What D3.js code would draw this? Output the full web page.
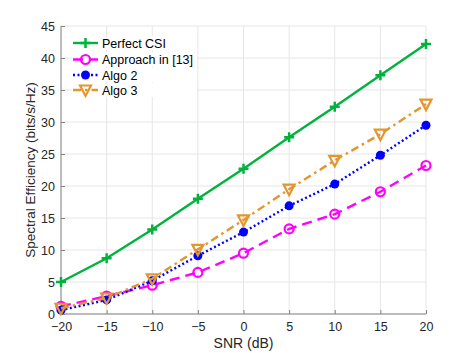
<!DOCTYPE html>
<html><head><meta charset="utf-8">
<script src="https://cdn.jsdelivr.net/npm/d3@7"></script>
<style>body{margin:0;background:#fff}svg{display:block}text{font-family:"Liberation Sans",Arial,sans-serif}</style>
</head><body>
<svg id="c" width="471" height="353"></svg>
<script>
const snr = [-20, -15, -10, -5, 0, 5, 10, 15, 20];
const perfectCSI = [5.0, 8.7, 13.2, 18.0, 22.7, 27.6, 32.4, 37.3, 42.2];
const approach13 = [1.2, 2.8, 4.5, 6.5, 9.5, 13.3, 15.6, 19.1, 23.2];
const algo2 = [0.6, 2.2, 5.2, 9.1, 12.8, 16.9, 20.3, 24.8, 29.5];
const algo3 = [0.9, 2.5, 5.5, 10.1, 14.7, 19.5, 24.0, 28.1, 32.8];
const xTicks = [-20, -15, -10, -5, 0, 5, 10, 15, 20];
const yTicks = [0, 5, 10, 15, 20, 25, 30, 35, 40, 45];
const seriesNames = ["Perfect CSI", "Approach in [13]", "Algo 2", "Algo 3"];

const series = [
  {name: seriesNames[0], vals: perfectCSI, color: "#00b33c", dash: null, marker: "plus"},
  {name: seriesNames[1], vals: approach13, color: "#ff00ff", dash: "10,6", marker: "circle"},
  {name: seriesNames[2], vals: algo2, color: "#0000ff", dash: "2,2.5", marker: "dot"},
  {name: seriesNames[3], vals: algo3, color: "#e3962b", dash: "8,4,2.5,4", marker: "tri"}
];

const svg = d3.select("#c");
const L = 61, R = 426, T = 26, B = 314;
const x = d3.scaleLinear().domain([-20, 20]).range([L, R]);
const y = d3.scaleLinear().domain([0, 45]).range([B, T]);

// grid
const g = svg.append("g");
g.selectAll(".gx").data(xTicks).join("line")
  .attr("x1", d => x(d)).attr("x2", d => x(d)).attr("y1", T).attr("y2", B)
  .attr("stroke", "#e6e6e6").attr("stroke-width", 1);
g.selectAll(".gy").data(yTicks).join("line")
  .attr("x1", L).attr("x2", R).attr("y1", d => y(d)).attr("y2", d => y(d))
  .attr("stroke", "#e6e6e6").attr("stroke-width", 1);

// axes
const xAxis = d3.axisBottom(x).tickValues(xTicks).tickSize(-4).tickPadding(8).tickFormat(d3.format("d"));
const yAxis = d3.axisLeft(y).tickValues(yTicks).tickSize(-4).tickPadding(6).tickFormat(d3.format("d"));
const ax = svg.append("g").attr("transform", `translate(0,${B})`).call(xAxis);
const ay = svg.append("g").attr("transform", `translate(${L},0)`).call(yAxis);
[ax, ay].forEach(a => {
  a.select(".domain").attr("stroke", "#858585").attr("stroke-width", 1);
  a.selectAll(".tick line").attr("stroke", "#858585");
  a.selectAll("text").attr("fill", "#262626").style("font-size", "12.5px").style("font-family", "'Liberation Sans',Arial,sans-serif");
});
ax.select(".domain").attr("d", `M${L},0H${R}`);
ay.select(".domain").attr("d", `M0,${B}V${T}`);

svg.append("text").attr("x", (L + R) / 2).attr("y", 348).attr("text-anchor", "middle")
  .attr("fill", "#262626").style("font-size", "14px").text("SNR (dB)");
svg.append("text").attr("transform", `translate(35,${(T + B) / 2}) rotate(-90)`).attr("text-anchor", "middle")
  .attr("fill", "#262626").style("font-size", "13.5px").text("Spectral Efficiency (bits/s/Hz)");

function drawMarker(sel, s, cx, cy) {
  if (s.marker === "plus") {
    sel.append("path").attr("d", `M${cx - 5},${cy}H${cx + 5}M${cx},${cy - 5}V${cy + 5}`)
      .attr("stroke", s.color).attr("stroke-width", 2.5).attr("fill", "none");
  } else if (s.marker === "circle") {
    sel.append("circle").attr("cx", cx).attr("cy", cy).attr("r", 4.5)
      .attr("stroke", s.color).attr("stroke-width", 2.2).attr("fill", "none");
  } else if (s.marker === "dot") {
    sel.append("circle").attr("cx", cx).attr("cy", cy).attr("r", 4.5).attr("fill", s.color);
  } else {
    sel.append("path").attr("d", `M${cx - 5.5},${cy - 4.5}L${cx + 5.5},${cy - 4.5}L${cx},${cy + 6}Z`)
      .attr("stroke", s.color).attr("stroke-width", 2.2).attr("fill", "none").attr("stroke-linejoin", "miter");
  }
}

const line = d3.line().x((d, i) => x(snr[i])).y(d => y(d));
series.forEach(s => {
  const gs = svg.append("g");
  gs.append("path").attr("d", line(s.vals)).attr("fill", "none").attr("stroke", s.color)
    .attr("stroke-width", 2.4).attr("stroke-dasharray", s.dash);
  s.vals.forEach((v, i) => drawMarker(gs, s, x(snr[i]), y(v)));
});

// legend
const legY = [43, 59.5, 75, 90];
series.forEach((s, i) => {
  const lg = svg.append("g");
  const yy = legY[i];
  lg.append("rect").attr("x", 72).attr("y", yy - 7).attr("width", 125).attr("height", 14).attr("fill", "#fff");
  lg.append("line").attr("x1", 73).attr("x2", 98).attr("y1", yy).attr("y2", yy)
    .attr("stroke", s.color).attr("stroke-width", 2.4).attr("stroke-dasharray", s.dash);
  drawMarker(lg, s, 85.5, yy);
  lg.append("text").attr("x", 102).attr("y", yy + 4.5).attr("fill", "#000").style("font-size", "12.5px").text(s.name);
});
</script>
</body></html>
